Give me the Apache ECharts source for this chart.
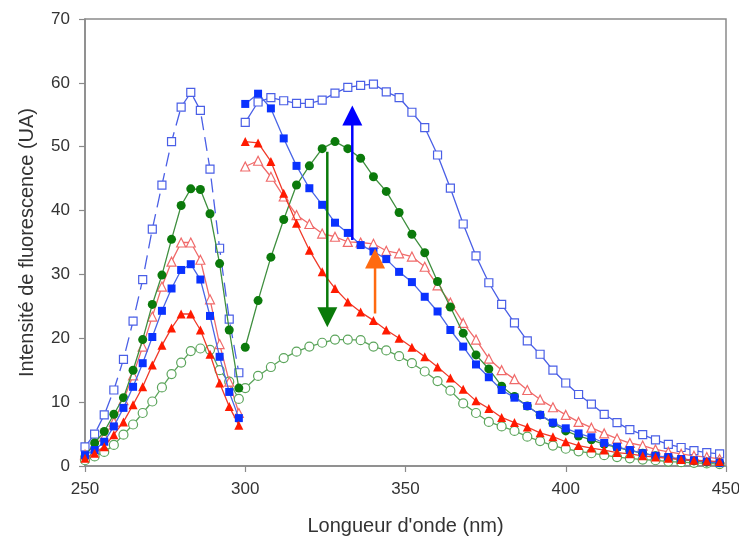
<!DOCTYPE html>
<html><head><meta charset="utf-8">
<script src="https://cdn.jsdelivr.net/npm/echarts@6/dist/echarts.min.js"></script>
<style>html,body{margin:0;padding:0;background:#fff}#c{width:739px;height:539px}</style>
</head><body><div id="c"></div>
<script>
// wavelengths (nm)
const xA = [250,253,256,259,262,265,268,271,274,277,280,283,286,289,292,295,298];
const xB = [300,304,308,312,316,320,324,328,332,336,340,344,348,352,356,360,364,368,372,376,380,384,388,392,396,400,404,408,412,416,420,424,428,432,436,440,444,448];

// blue open squares
const blueOpenA = [3.0,5.0,8.0,11.9,16.7,22.7,29.2,37.1,44.0,50.8,56.2,58.5,55.7,46.5,34.1,23.0,14.6];
const blueOpenB = [53.8,57.0,57.7,57.2,56.8,56.8,57.3,58.4,59.3,59.6,59.8,58.6,57.7,55.4,53.0,48.7,43.5,37.9,32.9,28.7,25.3,22.4,19.6,17.5,15.0,13.0,11.2,9.7,8.1,6.8,5.7,4.9,4.1,3.4,2.9,2.4,2.1,1.9];
// blue filled squares
const blueFillA = [1.7,2.5,3.8,6.2,9.1,12.4,16.1,20.2,24.3,27.8,30.7,31.6,29.2,23.5,17.1,11.6,7.5];
const blueFillB = [56.7,58.3,56.0,51.3,47.0,43.5,40.9,38.1,36.5,34.6,33.6,32.4,30.4,28.8,26.5,24.2,21.3,18.7,15.9,13.9,11.9,10.7,9.4,8.0,6.8,5.9,5.1,4.5,3.6,3.0,2.5,2.0,1.6,1.4,1.1,0.9,0.7,0.5];
// green filled circles
const greenFillA = [1.5,3.6,5.4,8.1,10.7,15.0,19.8,25.3,29.9,35.5,40.8,43.4,43.3,39.5,31.7,21.3,12.2];
const greenFillB = [18.6,25.9,32.7,38.6,44.0,47.0,49.7,50.8,49.7,48.2,45.3,43.0,39.7,36.3,33.4,28.9,24.9,20.8,17.4,15.2,12.5,10.9,9.4,8.0,6.7,5.5,4.7,4.1,3.4,2.9,2.4,2.0,1.6,1.3,1.0,0.8,0.6,0.5];
// green open circles
const greenOpenA = [0.9,1.5,2.2,3.3,4.9,6.5,8.3,10.1,12.3,14.4,16.2,18.0,18.4,18.2,15.0,13.2,10.5];
const greenOpenB = [12.2,14.1,15.5,16.9,17.9,18.7,19.3,19.8,19.8,19.7,18.7,18.1,17.2,16.1,14.8,13.3,11.8,9.8,8.3,6.9,6.2,5.5,4.6,3.9,3.2,2.7,2.3,2.0,1.7,1.4,1.2,1.0,0.9,0.7,0.6,0.5,0.4,0.3];
// red filled triangles
const redFillA = [1.2,2.0,3.0,4.9,6.9,9.6,12.4,15.8,18.9,21.6,23.8,23.8,21.3,17.5,13.0,9.3,6.4];
const redFillB = [50.8,50.6,47.7,42.7,38.0,33.8,30.4,27.8,25.7,24.1,22.8,21.3,20.0,18.6,17.1,15.5,13.8,12.0,10.2,9.0,7.6,6.8,6.1,5.2,4.6,3.8,3.2,2.8,2.5,2.1,1.9,1.6,1.4,1.2,1.0,0.9,0.8,0.7];
// red open triangles
const redOpenA = [1.8,3.3,4.6,6.9,10.3,14.2,18.7,23.4,28.1,32.0,35.0,35.0,32.3,26.1,19.1,13.2,8.3];
const redOpenB = [46.9,47.8,45.3,42.2,39.3,37.9,36.4,35.9,35.1,35.0,34.8,33.7,33.3,32.8,31.2,28.3,25.6,22.4,19.8,16.8,15.0,13.6,11.9,10.4,9.2,8.0,6.9,6.0,5.1,4.3,3.6,3.2,2.6,2.2,1.9,1.6,1.4,1.1];

// arrows (annotation): shaft start, arrowhead centre, direction
const arrowX = [325.6, 333.4, 340.5];
const arrowFrom = [49.2, 35.4, 23.9];
const arrowTo = [23.3, 54.9, 32.5];
const arrowDown = [true, false, false];
const arrowColor = ['#0a7a0a', '#0000ff', '#ff6a10'];

const xTicks = [250, 300, 350, 400, 450];
const yTicks = [0, 10, 20, 30, 40, 50, 60, 70];

const FONT = '"Liberation Sans", Arial, sans-serif';

function mk(xs, ys, st) {
  return {
    type: 'line',
    data: xs.map((x, i) => [x, ys[i]]),
    symbol: st.symbol,
    symbolSize: st.size,
    showSymbol: true,
    z: st.z || 2,
    lineStyle: { color: st.line, width: 1.3, type: st.dash || 'solid' },
    itemStyle: st.open
      ? { color: '#ffffff', borderColor: st.color, borderWidth: 1.2 }
      : { color: st.color, borderColor: st.color, borderWidth: 0 },
    emphasis: { disabled: true },
    silent: true
  };
}

const styles = {
  blueOpen: { symbol: 'rect', size: 8, color: '#4a5fe6', line: '#4a5fe6', open: true },
  blueFill: { symbol: 'rect', size: 8, color: '#0a32ff', line: '#4a66e6', z: 4 },
  greenFill: { symbol: 'circle', size: 9, color: '#0b7a0b', line: '#3f8f3f', z: 3 },
  greenOpen: { symbol: 'circle', size: 9, color: '#5ca55c', line: '#5ca55c', open: true },
  redFill: { symbol: 'triangle', size: 9, color: '#ff1a00', line: '#f03a2a', z: 4 },
  redOpen: { symbol: 'triangle', size: 9, color: '#f06a6a', line: '#f06a6a', open: true }
};

const series = [
  mk(xA, blueOpenA, Object.assign({}, styles.blueOpen, { dash: [14, 7] })),
  mk(xB, blueOpenB, styles.blueOpen),
  mk(xA, greenOpenA, styles.greenOpen),
  mk(xB, greenOpenB, styles.greenOpen),
  mk(xA, redOpenA, styles.redOpen),
  mk(xB, redOpenB, styles.redOpen),
  mk(xA, greenFillA, styles.greenFill),
  mk(xB, greenFillB, styles.greenFill),
  mk(xA, blueFillA, styles.blueFill),
  mk(xB, blueFillB, styles.blueFill),
  mk(xA, redFillA, styles.redFill),
  mk(xB, redFillB, styles.redFill)
];

// arrow shafts
arrowX.forEach((x, i) => {
  series.push({
    type: 'line', silent: true, z: 10, showSymbol: false, symbol: 'none',
    data: [[x, arrowFrom[i]], [x, arrowTo[i]]],
    lineStyle: { color: arrowColor[i], width: 2.5 },
    emphasis: { disabled: true }
  });
});
// arrow heads
series.push({
  type: 'scatter', silent: true, z: 11,
  symbol: 'triangle', symbolSize: [20, 20],
  data: arrowX.map((x, i) => ({
    value: [x, arrowTo[i]],
    symbolRotate: arrowDown[i] ? 180 : 0,
    itemStyle: { color: arrowColor[i], opacity: 1 }
  })),
  itemStyle: { opacity: 1 },
  emphasis: { disabled: true }
});

const axisCommon = {
  axisLine: { show: true, lineStyle: { color: '#8a8a8a', width: 1.5 } },
  axisTick: { show: true, inside: false, length: 6, lineStyle: { color: '#8a8a8a', width: 1.2 } },
  splitLine: { show: false },
  axisLabel: { color: '#333', fontSize: 17, fontFamily: FONT },
  nameTextStyle: { color: '#333', fontSize: 20, fontFamily: FONT }
};

const chart = echarts.init(document.getElementById('c'), null, { renderer: 'canvas' });
chart.setOption({
  animation: false,
  backgroundColor: '#ffffff',
  grid: { left: 85, right: 13, top: 19, bottom: 73, containLabel: false, outerBoundsMode: 'none', show: true, borderColor: '#8a8a8a', borderWidth: 1.5, backgroundColor: 'transparent' },
  xAxis: Object.assign({}, axisCommon, {
    type: 'value', min: xTicks[0], max: xTicks[xTicks.length - 1], interval: 50,
    name: "Longueur d'onde (nm)", nameLocation: 'middle', nameGap: 50,
    axisLabel: Object.assign({}, axisCommon.axisLabel, { margin: 15 })
  }),
  yAxis: Object.assign({}, axisCommon, {
    type: 'value', min: yTicks[0], max: yTicks[yTicks.length - 1], interval: 10,
    name: 'Intensité de fluorescence (UA)', nameLocation: 'middle', nameGap: 48,
    axisLabel: Object.assign({}, axisCommon.axisLabel, { margin: 15 })
  }),
  series: series
});
</script>
</body></html>
